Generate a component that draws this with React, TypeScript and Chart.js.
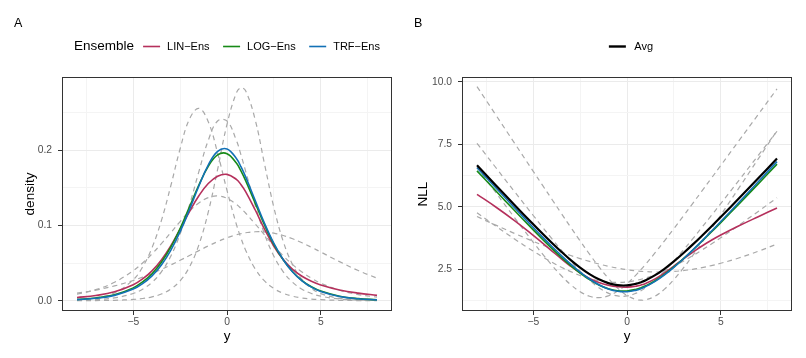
import React, { useEffect, useRef } from "react";
import { Chart, registerables } from "chart.js";

Chart.register(...registerables);

const FONT = "'Liberation Sans', Arial, Helvetica, sans-serif";

// ---------------- data ----------------
const yValues = [-8, -7, -6, -5, -4.5, -4, -3.5, -3, -2.5, -2, -1.5, -1, -0.5, 0, 0.5, 0.75, 1, 1.5, 2, 2.5, 3, 3.5, 4, 4.5, 5, 6, 7, 8];

// Panel A: densities of the five members (dashed grey)
const member1Density = [0.000055, 0.000171, 0.000528, 0.00164, 0.00287, 0.00503, 0.0088, 0.01531, 0.02638, 0.04483, 0.07413, 0.11755, 0.17431, 0.23414, 0.27574, 0.2826, 0.27837, 0.24057, 0.18164, 0.12376, 0.07857, 0.04768, 0.02815, 0.01635, 0.00941, 0.00307, 0.000995, 0.000322];
const member2Density = [0.001376, 0.0038, 0.01041, 0.02789, 0.04478, 0.07024, 0.10626, 0.15219, 0.20165, 0.24114, 0.25524, 0.23748, 0.19592, 0.14631, 0.10135, 0.08263, 0.06664, 0.04233, 0.02631, 0.01613, 0.0098, 0.00593, 0.00357, 0.00215, 0.00129, 0.000467, 0.000168, 0.000061];
const member3Density = [0.000534, 0.001403, 0.003675, 0.00956, 0.01531, 0.02436, 0.03829, 0.05903, 0.08847, 0.12695, 0.17127, 0.21272, 0.23849, 0.23849, 0.21272, 0.19311, 0.17127, 0.12695, 0.08847, 0.05903, 0.03829, 0.02436, 0.01531, 0.00956, 0.00594, 0.002273, 0.000866, 0.000329];
const member4Density = [0.00856, 0.01458, 0.02444, 0.03984, 0.05008, 0.06208, 0.07565, 0.09024, 0.105, 0.11866, 0.12974, 0.13685, 0.13897, 0.1358, 0.1278, 0.12232, 0.11608, 0.10209, 0.08728, 0.07283, 0.05955, 0.04789, 0.038, 0.02984, 0.02323, 0.01383, 0.0081, 0.00471];
const member5Density = [0.00998, 0.01404, 0.01955, 0.02685, 0.03124, 0.03614, 0.04153, 0.04737, 0.05355, 0.05996, 0.0664, 0.07263, 0.07841, 0.08344, 0.08745, 0.08899, 0.09019, 0.0915, 0.09129, 0.08956, 0.08645, 0.08213, 0.07686, 0.07093, 0.0646, 0.0518, 0.03998, 0.02996];

// Panel A: ensemble densities
const linDensity = [0.004101, 0.0068, 0.01172, 0.02116, 0.02886, 0.03957, 0.05411, 0.07283, 0.09501, 0.11831, 0.13936, 0.15545, 0.16522, 0.16764, 0.16101, 0.15393, 0.14451, 0.12069, 0.095, 0.07226, 0.05453, 0.0416, 0.03238, 0.02577, 0.02089, 0.01429, 0.01002, 0.00708];
const logDensity = [0.0016, 0.003558, 0.00784, 0.01702, 0.02482, 0.03583, 0.05097, 0.07094, 0.09585, 0.12445, 0.15355, 0.17835, 0.19353, 0.19516, 0.18264, 0.17189, 0.15902, 0.12987, 0.10059, 0.07486, 0.05413, 0.03834, 0.02678, 0.01852, 0.01271, 0.0059, 0.0027, 0.001227];
const trfDensity = [0.001413, 0.003161, 0.007023, 0.01543, 0.02267, 0.033, 0.04739, 0.06679, 0.09158, 0.121, 0.15221, 0.18007, 0.19814, 0.20134, 0.1887, 0.17747, 0.16393, 0.13331, 0.10272, 0.07593, 0.0544, 0.03812, 0.02632, 0.01797, 0.01218, 0.00552, 0.002477, 0.001107];

// Panel B: NLL of the five members (dashed grey)
const member1Nll = [9.806, 8.675, 7.545, 6.416, 5.853, 5.2915, 4.733, 4.179, 3.635, 3.105, 2.602, 2.141, 1.747, 1.4518, 1.2883, 1.2637, 1.2788, 1.4248, 1.7058, 2.0894, 2.5438, 3.0433, 3.5703, 4.1135, 4.6662, 5.7856, 6.9127, 8.0425];
const member2Nll = [6.589, 5.5727, 4.5647, 3.5796, 3.1061, 2.6559, 2.2419, 1.8826, 1.6012, 1.4224, 1.3655, 1.4376, 1.63, 1.9221, 2.2892, 2.4934, 2.7084, 3.162, 3.6377, 4.127, 4.6247, 5.1275, 5.6334, 6.1412, 6.6503, 7.67, 8.6905, 9.7115];
const member3Nll = [7.5356, 6.5694, 5.6061, 4.6505, 4.1789, 3.7149, 3.2627, 2.8297, 2.4251, 2.0639, 1.7645, 1.5478, 1.4334, 1.4334, 1.5478, 1.6445, 1.7645, 2.0639, 2.4251, 2.8297, 3.2627, 3.7149, 4.1789, 4.6505, 5.127, 6.0872, 7.0523, 8.0192];
const member4Nll = [4.7607, 4.2279, 3.7115, 3.223, 2.9941, 2.7793, 2.5817, 2.4053, 2.2538, 2.1316, 2.0422, 1.9889, 1.9735, 1.9966, 2.0573, 2.1012, 2.1535, 2.2819, 2.4387, 2.6197, 2.821, 3.0389, 3.2701, 3.512, 3.7622, 4.2806, 4.8147, 5.358];
const member5Nll = [4.6076, 4.2658, 3.9345, 3.6176, 3.4661, 3.3204, 3.1813, 3.0498, 2.9271, 2.8141, 2.7121, 2.6223, 2.5457, 2.4836, 2.4366, 2.4192, 2.4058, 2.3914, 2.3937, 2.4128, 2.4482, 2.4994, 2.5658, 2.6461, 2.7395, 2.9604, 3.2194, 3.5079];

// Panel B: ensembles and average
const linNll = [5.4964, 4.991, 4.4464, 3.8558, 3.5454, 3.2297, 2.9168, 2.6196, 2.3537, 2.1345, 1.9707, 1.8615, 1.8005, 1.7859, 1.8263, 1.8713, 1.9345, 2.1145, 2.3539, 2.6274, 2.909, 3.1797, 3.4302, 3.6586, 3.8683, 4.2482, 4.603, 4.951];
const logNll = [6.4364, 5.6386, 4.8488, 4.0737, 3.696, 3.3288, 2.9765, 2.6457, 2.3448, 2.0838, 1.8737, 1.7239, 1.6423, 1.6339, 1.7002, 1.7608, 1.8386, 2.0412, 2.2966, 2.5921, 2.9165, 3.2612, 3.6201, 3.9891, 4.3654, 5.1332, 5.9143, 6.7042];
const trfNll = [6.5615, 5.7573, 4.9586, 4.1719, 3.7868, 3.4112, 3.0492, 2.7062, 2.3904, 2.1119, 1.8824, 1.7143, 1.6187, 1.6026, 1.6675, 1.7288, 1.8082, 2.015, 2.2756, 2.5779, 2.9113, 3.2666, 3.6375, 4.0192, 4.4082, 5.1988, 6.0006, 6.8057];
const avgNll = [6.66, 5.8622, 5.0724, 4.2973, 3.9196, 3.5524, 3.2001, 2.8693, 2.5684, 2.3074, 2.0973, 1.9475, 1.8659, 1.8575, 1.9238, 1.9844, 2.0622, 2.2648, 2.5202, 2.8157, 3.1401, 3.4848, 3.8437, 4.2127, 4.589, 5.3568, 6.1379, 6.9278];

// ticks
const xTickValues = [-7.5, -5, -2.5, 0, 2.5, 5, 7.5];
const xMajorTicks = [-5, 0, 5];
const densityTickValues = [0, 0.05, 0.1, 0.15, 0.2, 0.25];
const densityMajorTicks = [0, 0.1, 0.2];
const nllTickValues = [1.25, 2.5, 3.75, 5, 6.25, 7.5, 8.75, 10];
const nllMajorTicks = [2.5, 5, 7.5, 10];

const ensembleLabels = ["LIN\u2212Ens", "LOG\u2212Ens", "TRF\u2212Ens"];
const avgLabel = "Avg";

// ---------------- styles ----------------
const LIN_COLOR = "#B5305C";
const LOG_COLOR = "#178A17";
const TRF_COLOR = "#1271B6";
const AVG_COLOR = "#000000";
const MEMBER_COLOR = "#A9A9A9";

const isIn = (list: number[], v: number) => list.some((m) => Math.abs(m - v) < 1e-9);
const fmtX = (v: number) => (v < 0 ? "\u2212" + Math.abs(v) : String(v));

const pts = (ys: number[]) => yValues.map((x, i) => ({ x, y: ys[i] }));

const memberDataset = (ys: number[]) => ({
  label: "member",
  data: pts(ys),
  borderColor: MEMBER_COLOR,
  borderWidth: 1.2,
  borderDash: [5, 4],
  pointRadius: 0,
  tension: 0.4,
  fill: false,
  order: 10,
});

const lineDataset = (label: string, ys: number[], color: string, width: number, order: number) => ({
  label,
  data: pts(ys),
  borderColor: color,
  borderWidth: width,
  pointRadius: 0,
  tension: 0.4,
  fill: false,
  order,
});

const decorPlugin = {
  id: "decor",
  afterDatasetsDraw(chart: any) {
    const { ctx, chartArea: a } = chart;
    ctx.save();
    ctx.strokeStyle = "#333333";
    ctx.lineWidth = 1;
    ctx.strokeRect(a.left + 0.5, a.top + 0.5, a.right - a.left - 1, a.bottom - a.top - 1);
    ctx.restore();
  },
  afterDraw(chart: any, _args: any, opts: any) {
    const { ctx, chartArea: a } = chart;
    ctx.save();
    ctx.fillStyle = "#000";
    ctx.textBaseline = "middle";
    ctx.textAlign = "left";
    ctx.font = `12.5px ${FONT}`;
    ctx.fillText(opts.tag, 14, 23.5);

    const legendY = 46.5;
    const titleFont = `13.5px ${FONT}`;
    const itemFont = `11px ${FONT}`;
    const keyLen = 17;
    const keyGap = opts.keyGap;
    const itemGap = 13.5;
    const titleGap = 9;
    let total = 0;
    if (opts.title) {
      ctx.font = titleFont;
      total += ctx.measureText(opts.title).width + titleGap;
    }
    ctx.font = itemFont;
    const widths = opts.items.map((it: any) => ctx.measureText(it.label).width);
    opts.items.forEach((_: any, i: number) => {
      total += keyLen + keyGap + widths[i];
      if (i < opts.items.length - 1) total += itemGap;
    });
    let x = (a.left + a.right) / 2 + (opts.shift || 0) - total / 2;
    if (opts.title) {
      ctx.font = titleFont;
      ctx.fillStyle = "#000";
      ctx.fillText(opts.title, x, legendY);
      x += ctx.measureText(opts.title).width + titleGap;
    }
    ctx.font = itemFont;
    opts.items.forEach((it: any, i: number) => {
      ctx.strokeStyle = it.color;
      ctx.lineWidth = it.width;
      ctx.beginPath();
      ctx.moveTo(x, legendY);
      ctx.lineTo(x + keyLen, legendY);
      ctx.stroke();
      x += keyLen + keyGap;
      ctx.fillStyle = "#000";
      ctx.fillText(it.label, x, legendY);
      x += widths[i] + itemGap;
    });
    ctx.restore();
  },
};

function makeScales(yMin: number, yMax: number, yTicks: number[], yMajor: number[], yTitle: string, yTitlePad: number) {
  const tickFont = { family: FONT, size: 10.3 };
  const titleFont = { family: FONT, size: 13.5 };
  const zeroPad = (s: any) => {
    s.paddingTop = 0;
    s.paddingBottom = 0;
    s.paddingLeft = 0;
    s.paddingRight = 0;
  };
  return {
    x: {
      type: "linear" as const,
      min: -8.8,
      max: 8.8,
      afterBuildTicks: (s: any) => {
        s.ticks = xTickValues.map((v) => ({ value: v }));
      },
      afterFit: (s: any) => {
        s.height = 47;
        zeroPad(s);
      },
      ticks: {
        autoSkip: false,
        maxRotation: 0,
        padding: 1,
        color: "#4d4d4d",
        font: tickFont,
        callback: (v: any) => (isIn(xMajorTicks, Number(v)) ? fmtX(Number(v)) : ""),
      },
      grid: {
        color: (c: any) => (c.tick && isIn(xMajorTicks, c.tick.value) ? "#EBEBEB" : "#F4F4F4"),
        lineWidth: 1,
        tickLength: 4,
        tickWidth: 1,
        tickColor: (c: any) => (c.tick && isIn(xMajorTicks, c.tick.value) ? "#333333" : "rgba(0,0,0,0)"),
      },
      border: { display: false },
      title: { display: true, text: "y", color: "#000", font: titleFont, padding: { top: 0, bottom: 14 } },
    },
    y: {
      type: "linear" as const,
      min: yMin,
      max: yMax,
      afterBuildTicks: (s: any) => {
        s.ticks = yTicks.map((v) => ({ value: v }));
      },
      afterFit: (s: any) => {
        s.width = 62;
        zeroPad(s);
      },
      ticks: {
        autoSkip: false,
        padding: 6,
        color: "#4d4d4d",
        font: tickFont,
        callback: (v: any) => (isIn(yMajor, Number(v)) ? Number(v).toFixed(1) : ""),
      },
      grid: {
        color: (c: any) => (c.tick && isIn(yMajor, c.tick.value) ? "#EBEBEB" : "#F4F4F4"),
        lineWidth: 1,
        tickLength: 4,
        tickWidth: 1,
        tickColor: (c: any) => (c.tick && isIn(yMajor, c.tick.value) ? "#333333" : "rgba(0,0,0,0)"),
      },
      border: { display: false },
      title: { display: true, text: yTitle, color: "#000", font: titleFont, padding: { top: yTitlePad, bottom: 0 } },
    },
  };
}

function PanelA() {
  const ref = useRef<HTMLCanvasElement>(null);
  useEffect(() => {
    const chart = new Chart(ref.current!, {
      type: "line",
      data: {
        datasets: [
          memberDataset(member1Density),
          memberDataset(member2Density),
          memberDataset(member3Density),
          memberDataset(member4Density),
          memberDataset(member5Density),
          lineDataset(ensembleLabels[0], linDensity, LIN_COLOR, 1.6, 3),
          lineDataset(ensembleLabels[1], logDensity, LOG_COLOR, 1.6, 2),
          lineDataset(ensembleLabels[2], trfDensity, TRF_COLOR, 1.6, 1),
        ] as any,
      },
      options: {
        animation: false,
        responsive: false,
        layout: { padding: { top: 77, left: 0, right: 8, bottom: 0 } },
        scales: makeScales(-0.0137, 0.2969, densityTickValues, densityMajorTicks, "density", 22) as any,
        plugins: {
          legend: { display: false },
          tooltip: { enabled: false },
          decor: {
            tag: "A",
            title: "Ensemble",
            keyGap: 7,
            shift: 0,
            items: [
              { label: ensembleLabels[0], color: LIN_COLOR, width: 1.6 },
              { label: ensembleLabels[1], color: LOG_COLOR, width: 1.6 },
              { label: ensembleLabels[2], color: TRF_COLOR, width: 1.6 },
            ],
          },
        } as any,
      },
      plugins: [decorPlugin as any],
    });
    return () => chart.destroy();
  }, []);
  return <canvas ref={ref} width={400} height={358} style={{ position: "absolute", left: 0, top: 0 }} />;
}

function PanelB() {
  const ref = useRef<HTMLCanvasElement>(null);
  useEffect(() => {
    const chart = new Chart(ref.current!, {
      type: "line",
      data: {
        datasets: [
          memberDataset(member1Nll),
          memberDataset(member2Nll),
          memberDataset(member3Nll),
          memberDataset(member4Nll),
          memberDataset(member5Nll),
          lineDataset(ensembleLabels[0], linNll, LIN_COLOR, 1.6, 4),
          lineDataset(ensembleLabels[1], logNll, LOG_COLOR, 1.6, 3),
          lineDataset(ensembleLabels[2], trfNll, TRF_COLOR, 1.6, 2),
          lineDataset(avgLabel, avgNll, AVG_COLOR, 2.2, 1),
        ] as any,
      },
      options: {
        animation: false,
        responsive: false,
        layout: { padding: { top: 77, left: 0, right: 14, bottom: 0 } },
        scales: makeScales(0.832, 10.188, nllTickValues, nllMajorTicks, "NLL", 15) as any,
        plugins: {
          legend: { display: false },
          tooltip: { enabled: false },
          decor: {
            tag: "B",
            title: "",
            keyGap: 8.5,
            shift: 4,
            items: [{ label: avgLabel, color: AVG_COLOR, width: 2.4 }],
          },
        } as any,
      },
      plugins: [decorPlugin as any],
    });
    return () => chart.destroy();
  }, []);
  return <canvas ref={ref} width={406} height={358} style={{ position: "absolute", left: 400, top: 0 }} />;
}

export default function App() {
  return (
    <div style={{ position: "absolute", left: 0, top: 0, width: 806, height: 358, background: "#fff", overflow: "hidden" }}>
      <PanelA />
      <PanelB />
    </div>
  );
}
